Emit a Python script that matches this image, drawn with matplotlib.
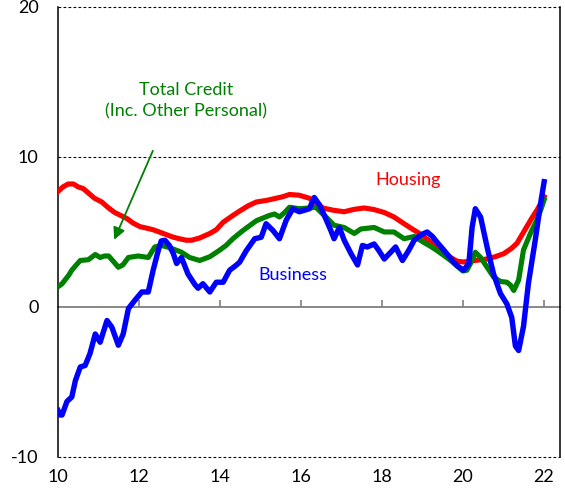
import matplotlib
matplotlib.use('Agg')
import matplotlib.pyplot as plt


# values (x = year, 10 -> 2010)
housing_x = [10.0, 10.12, 10.25, 10.38, 10.5, 10.62, 10.75, 10.9, 11.08, 11.25, 11.4, 11.55,
             11.7, 11.85, 12.03, 12.2, 12.35, 12.5, 12.7, 12.85, 13.0, 13.17, 13.3, 13.5,
             13.75, 13.91, 14.08, 14.32, 14.49, 14.7, 14.9, 15.14, 15.31, 15.55, 15.72, 15.96,
             16.21, 16.4, 16.54, 16.8, 17.07, 17.3, 17.56, 17.8, 18.06, 18.3, 18.55, 18.75,
             18.96, 19.15, 19.37, 19.55, 19.7, 19.86, 20.02, 20.3, 20.6, 20.8, 21.01, 21.2,
             21.34, 21.46, 21.58, 21.7, 21.83, 21.93, 22.01]
housing_y = [7.7, 8.0, 8.2, 8.2, 8.0, 7.9, 7.6, 7.25, 7.0, 6.6, 6.3, 6.1,
             5.9, 5.6, 5.35, 5.25, 5.15, 5.0, 4.8, 4.65, 4.55, 4.45, 4.45, 4.6,
             4.9, 5.15, 5.65, 6.1, 6.4, 6.75, 7.0, 7.1, 7.2, 7.35, 7.5, 7.45,
             7.25, 6.9, 6.6, 6.45, 6.35, 6.5, 6.6, 6.5, 6.3, 6.0, 5.55, 5.2,
             4.85, 4.45, 4.0, 3.6, 3.3, 3.05, 3.0, 3.1, 3.2, 3.35, 3.55, 3.9,
             4.25, 4.8, 5.35, 5.9, 6.45, 6.9, 7.35]

total_x = [10.0, 10.1, 10.26, 10.34, 10.45, 10.55, 10.75, 10.92, 11.04, 11.15, 11.25, 11.38,
           11.49, 11.6, 11.74, 11.98, 12.23, 12.39, 12.56, 12.7, 12.81, 13.05, 13.25, 13.5,
           13.75, 14.0, 14.15, 14.32, 14.57, 14.9, 15.22, 15.35, 15.47, 15.6, 15.72, 15.96,
           16.21, 16.37, 16.5, 16.62, 16.82, 17.07, 17.32, 17.48, 17.81, 18.06, 18.3, 18.55,
           18.8, 19.04, 19.2, 19.37, 19.55, 19.7, 19.85, 20.0, 20.1, 20.19, 20.31, 20.44,
           20.6, 20.76, 20.93, 21.09, 21.18, 21.26, 21.38, 21.5, 21.67, 21.83, 21.93, 22.01]
total_y = [1.35, 1.55, 2.1, 2.45, 2.8, 3.1, 3.15, 3.5, 3.3, 3.4, 3.4, 3.0,
           2.65, 2.8, 3.3, 3.4, 3.3, 4.0, 4.1, 4.0, 3.9, 3.65, 3.3, 3.1,
           3.35, 3.8, 4.1, 4.55, 5.1, 5.75, 6.1, 6.2, 6.0, 6.3, 6.65, 6.55,
           6.6, 6.65, 6.3, 6.0, 5.45, 5.3, 4.9, 5.2, 5.3, 5.0, 5.0, 4.55,
           4.7, 4.3, 4.05, 3.75, 3.4, 3.1, 2.75, 2.4, 2.45, 2.9, 3.65, 3.3,
           2.65, 2.0, 1.7, 1.65, 1.45, 1.1, 1.8, 3.8, 4.9, 5.8, 6.5, 7.15]

business_x = [10.0, 10.05, 10.1, 10.22, 10.34, 10.43, 10.55, 10.67, 10.79, 10.92, 11.04, 11.21,
              11.33, 11.49, 11.61, 11.74, 11.9, 12.07, 12.23, 12.35, 12.48, 12.55, 12.64, 12.75,
              12.85, 12.93, 13.05, 13.21, 13.38, 13.46, 13.58, 13.75, 13.91, 14.08, 14.24, 14.41,
              14.49, 14.65, 14.86, 15.02, 15.14, 15.31, 15.47, 15.64, 15.8, 15.96, 16.09, 16.21,
              16.33, 16.46, 16.58, 16.74, 16.82, 16.95, 17.07, 17.24, 17.4, 17.52, 17.64, 17.81,
              17.93, 18.06, 18.22, 18.34, 18.51, 18.67, 18.8, 18.96, 19.12, 19.25, 19.37, 19.53,
              19.74, 19.86, 20.02, 20.15, 20.23, 20.31, 20.44, 20.6, 20.76, 20.93, 21.09, 21.21,
              21.3, 21.38, 21.5, 21.62, 21.79, 21.91, 22.01]
business_y = [-6.9, -7.2, -7.2, -6.3, -6.0, -4.9, -4.0, -3.9, -3.1, -1.8, -2.35, -0.9,
              -1.35, -2.55, -1.8, -0.1, 0.45, 1.0, 1.0, 2.45, 3.8, 4.4, 4.45, 4.1,
              3.55, 2.9, 3.3, 2.2, 1.5, 1.25, 1.55, 1.0, 1.65, 1.65, 2.45, 2.8,
              3.0, 3.75, 4.55, 4.65, 5.55, 5.1, 4.55, 5.8, 6.55, 6.35, 6.45, 6.55,
              7.3, 6.8, 6.1, 5.1, 4.55, 5.3, 4.45, 3.55, 2.8, 4.1, 4.0, 4.2,
              3.75, 3.2, 3.65, 4.0, 3.1, 3.8, 4.45, 4.8, 5.0, 4.7, 4.3, 3.8,
              3.1, 2.75, 2.45, 2.9, 5.3, 6.55, 6.0, 4.0, 2.2, 0.9, 0.2, -0.7,
              -2.6, -2.9, -1.3, 1.55, 4.45, 6.7, 8.35]

x_ticks = [10, 12, 14, 16, 18, 20, 22]
y_ticks = [-10, 0, 10, 20]

RED = '#ff0000'
GREEN = '#008000'
BLUE = '#0000ff'

plt.rcParams['font.family'] = ['Lato', 'DejaVu Sans']
plt.rcParams['font.size'] = 13
plt.rcParams['axes.unicode_minus'] = False

fig = plt.figure(figsize=(5.65, 4.95), dpi=100)
ax = fig.add_axes([0.1027, 0.0768, 0.9903 - 0.1027, 0.9859 - 0.0768])

ax.plot(housing_x, housing_y, color=RED, lw=3.7, solid_joinstyle='round', zorder=3)
ax.plot(total_x, total_y, color=GREEN, lw=3.7, solid_joinstyle='round', zorder=4)
ax.plot(business_x, business_y, color=BLUE, lw=3.9, solid_joinstyle='round', zorder=5)

ax.set_xlim(10, 22.39)
ax.set_ylim(-10, 20)
ax.set_xticks(x_ticks)
ax.set_yticks(y_ticks)
ax.tick_params(axis='both', length=0, labelsize=13)
ax.tick_params(axis='y', pad=14)
ax.tick_params(axis='x', pad=9)

# dotted top / bottom borders and the 10 line
for side in ['top', 'bottom']:
    ax.spines[side].set_visible(False)
for lvl in [20, 10, -10]:
    ax.axhline(lvl, color='black', lw=0.8, ls=(0, (2.5, 2)), clip_on=False, zorder=1)
for side in ['left', 'right']:
    ax.spines[side].set_linewidth(1.1)

# zero line with small upward ticks
zero = ax.secondary_xaxis(1 / 3)
zero.set_xticks(x_ticks[1:])
zero.tick_params(direction='in', length=5, width=1.2, color='#7f7f7f', labelbottom=False)
zero.spines['bottom'].set_color('#7f7f7f')
zero.spines['bottom'].set_linewidth(1.3)

ax.text(13.16, 13.75, 'Total Credit\n(Inc. Other Personal)', color=GREEN, ha='center', va='center',
        fontsize=13, linespacing=1.45)
ax.annotate('', xy=(11.36, 4.31), xytext=(12.37, 10.58),
            arrowprops=dict(arrowstyle='-|>', color=GREEN, lw=1.3, mutation_scale=18))
ax.text(18.65, 8.45, 'Housing', color=RED, ha='center', va='center', fontsize=13)
ax.text(15.79, 2.1, 'Business', color=BLUE, ha='center', va='center', fontsize=13)

fig.savefig('out.png', dpi=100)
